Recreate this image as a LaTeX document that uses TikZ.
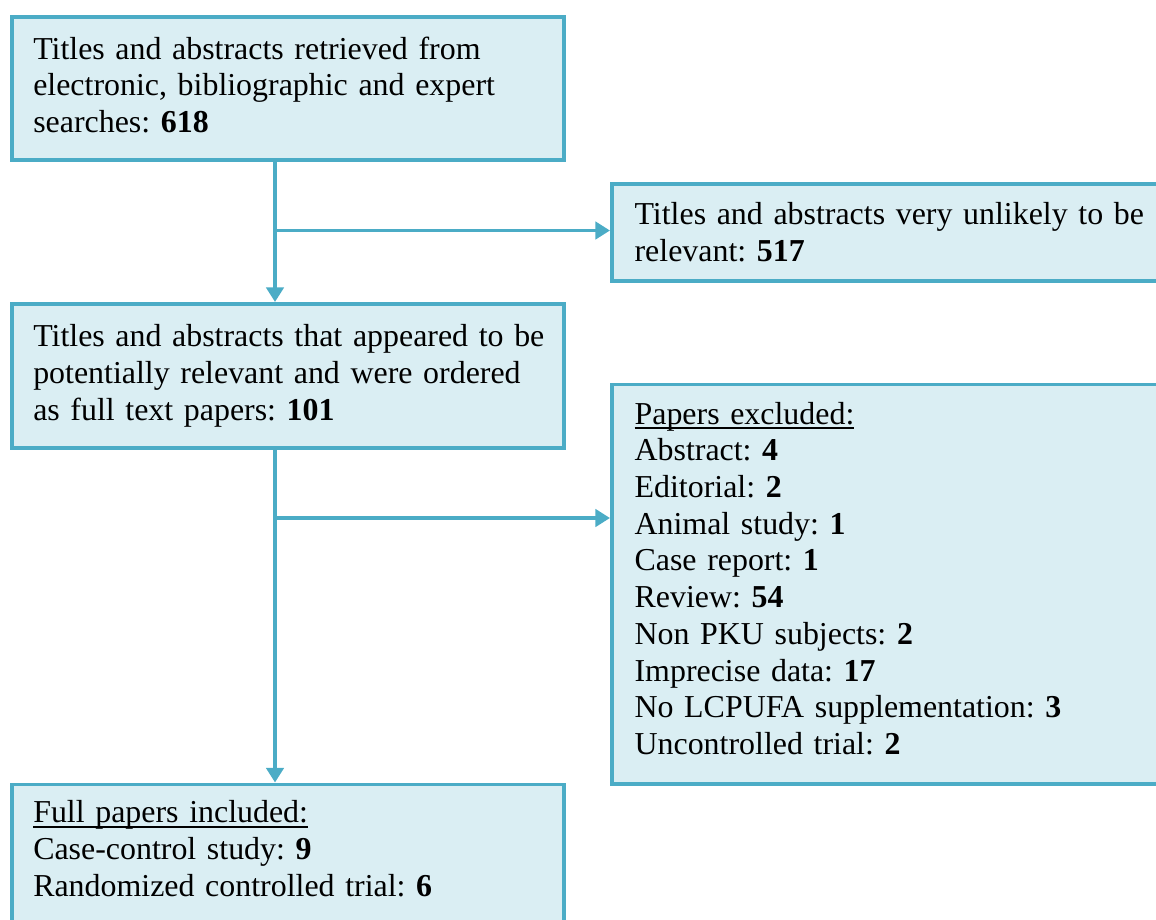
\documentclass[tikz,border=0pt]{standalone}
\usepackage{fontspec}
\setmainfont{Liberation Serif}
\usepackage{tikz}
\usetikzlibrary{arrows.meta, positioning}
\definecolor{flowline}{HTML}{4BACC6}
\definecolor{flowfill}{HTML}{DAEEF3}
% invisible strut that deepens the last line, lifting the text in its box
\newcommand{\liftby}[1]{\rule[-#1]{0pt}{#1}}
% word-style underline, drawn just under the baseline
\newcommand{\headline}[1]{\setbox0\hbox{#1}\rlap{\rule[-2pt]{\wd0}{0.75pt}}#1}

\begin{document}
\begin{tikzpicture}[x=0.376pt, y=-0.376pt,
    stage/.style={shape=rectangle, draw=flowline, fill=flowfill, line width=1.5pt,
      anchor=north west, align=left, inner xsep=8pt, inner ysep=0pt,
      font=\fontsize{12pt}{13.8pt}\selectfont\frenchspacing},
    leftstage/.style={stage, text width=191.5pt},
    rightstage/.style={stage, text width=194pt, inner xsep=8.5pt},
    flow/.style={draw=flowline, line width=1.5pt, -{Triangle[length=5.5pt, width=6.5pt]}}]
    \useasboundingbox (0,0) rectangle (1156,919);

    \node[leftstage, minimum height=53.8pt] (search) at (10,15) {Titles and abstracts retrieved from\\electronic, bibliographic and expert\\searches: \textbf{618}\liftby{3pt}};
    \node[rightstage, minimum height=36.3pt] (unlikely) at (610,182) {Titles and abstracts very unlikely to be\\relevant: \textbf{517}};
    \node[leftstage, minimum height=54pt] (ordered) at (10,302) {\mbox{Titles and abstracts that appeared to be}\\potentially relevant and were ordered\\as full text papers: \textbf{101}};
    \node[rightstage, minimum height=150.2pt] (excluded) at (610,382.5) {\headline{Papers excluded:}\\Abstract: \textbf{4}\\Editorial: \textbf{2}\\Animal study: \textbf{1}\\Case report: \textbf{1}\\Review: \textbf{54}\\Non PKU subjects: \textbf{2}\\Imprecise data: \textbf{17}\\No LCPUFA supplementation: \textbf{3}\\Uncontrolled trial: \textbf{2}\liftby{4.5pt}};
    \node[leftstage, minimum height=56pt] (included) at (10,782.5) {\headline{Full papers included:}\\Case-control study: \textbf{9}\\Randomized controlled trial: \textbf{6}\liftby{8pt}};

    % trunk of the flow and its two branches
    \coordinate (trunk) at (275,0);
    \coordinate (fork1) at (275,230.5);
    \coordinate (fork2) at (275,518);
    \draw[flow] (search.south -| trunk) -- (ordered.north -| trunk);
    \draw[flow] (ordered.south -| trunk) -- (included.north -| trunk);
    \draw[flow] (fork1) -- (fork1 -| unlikely.west);
    \draw[flow] (fork2) -- (fork2 -| excluded.west);
\end{tikzpicture}
\end{document}
